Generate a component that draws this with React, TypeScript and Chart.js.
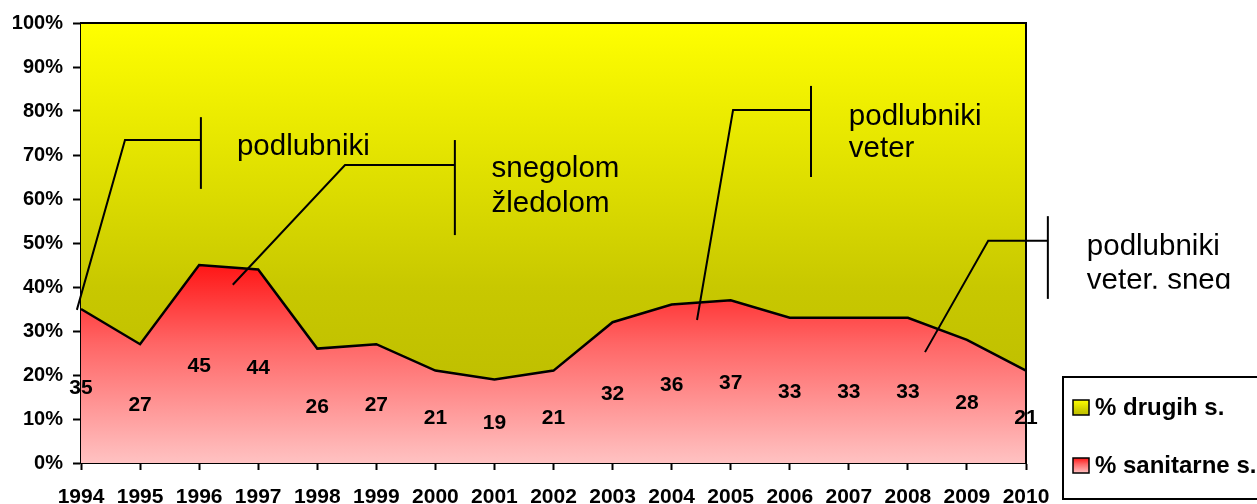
import { useEffect, useRef } from "react";
import { Chart, registerables } from "chart.js";

Chart.register(...registerables);

const years = ["1994", "1995", "1996", "1997", "1998", "1999", "2000", "2001", "2002", "2003", "2004", "2005", "2006", "2007", "2008", "2009", "2010"];
const sanitarne = [35, 27, 45, 44, 26, 27, 21, 19, 21, 32, 36, 37, 33, 33, 33, 28, 21];
const drugih = [65, 73, 55, 56, 74, 73, 79, 81, 79, 68, 64, 63, 67, 67, 67, 72, 79];
const yTickValues = [0, 10, 20, 30, 40, 50, 60, 70, 80, 90, 100];
const seriesNames = ["% drugih s.", "% sanitarne s."];
const calloutLines = [["podlubniki"], ["snegolom", "žledolom"], ["podlubniki", "veter"], ["podlubniki", "veter, sneg"]];

const FONT = "'Liberation Sans', Arial, Helvetica, sans-serif";

// annotation geometry (in category-index / percent units); ty = text baselines
const calloutGeom = [
  { path: [[-0.07, 34.8], [0.745, 73.4], [2.03, 73.4]], bar: [2.03, 78.6, 62.3], tx: 2.64, ty: [70.0], clip: null as number | null },
  { path: [[2.57, 40.5], [4.47, 67.7], [6.33, 67.7]], bar: [6.33, 73.4, 51.8], tx: 6.95, ty: [65.0, 57.05], clip: null },
  { path: [[10.43, 32.5], [11.04, 80.2], [12.36, 80.2]], bar: [12.36, 85.7, 65.0], tx: 13.0, ty: [76.8, 69.5], clip: null },
  { path: [[14.29, 25.2], [15.36, 50.5], [16.37, 50.5]], bar: [16.37, 56.1, 37.3], tx: 17.03, ty: [47.3, 39.5], clip: 39.6 as number | null },
];

function yellowGrad(ctx: CanvasRenderingContext2D, top: number, bottom: number) {
  const g = ctx.createLinearGradient(0, top, 0, bottom);
  g.addColorStop(0, "#FFFF00");
  g.addColorStop(0.6, "#C8C800");
  g.addColorStop(1, "#B8B800");
  return g;
}
function redGrad(ctx: CanvasRenderingContext2D, top: number, bottom: number) {
  const g = ctx.createLinearGradient(0, top, 0, bottom);
  g.addColorStop(0, "#FF1616");
  g.addColorStop(0.4, "#FF6666");
  g.addColorStop(1, "#FFC2C2");
  return g;
}

const overlayPlugin = {
  id: "overlay",
  afterDatasetsDraw(chart: any) {
    const { ctx } = chart;
    const xs = chart.scales.x;
    const ys = chart.scales.y;
    ctx.save();
    ctx.font = `bold 21px ${FONT}`;
    ctx.fillStyle = "#000";
    ctx.textAlign = "center";
    ctx.textBaseline = "alphabetic";
    sanitarne.forEach((v, i) => {
      ctx.fillText(String(v), xs.getPixelForValue(i), ys.getPixelForValue(v / 2) + 7.5);
    });
    ctx.restore();
  },
  afterDraw(chart: any) {
    const { ctx, chartArea } = chart;
    const xs = chart.scales.x;
    const ys = chart.scales.y;
    ctx.save();
    ctx.strokeStyle = "#000";
    ctx.lineWidth = 2;
    ctx.beginPath();
    ctx.moveTo(chartArea.left, chartArea.top);
    ctx.lineTo(chartArea.right, chartArea.top);
    ctx.lineTo(chartArea.right, chartArea.bottom);
    ctx.stroke();

    calloutGeom.forEach((c, k) => {
      ctx.lineWidth = 2;
      ctx.beginPath();
      c.path.forEach(([xi, yv], j) => {
        const px = xs.getPixelForValue(xi);
        const py = ys.getPixelForValue(yv);
        if (j === 0) ctx.moveTo(px, py);
        else ctx.lineTo(px, py);
      });
      ctx.stroke();
      ctx.beginPath();
      ctx.moveTo(xs.getPixelForValue(c.bar[0]), ys.getPixelForValue(c.bar[1]));
      ctx.lineTo(xs.getPixelForValue(c.bar[0]), ys.getPixelForValue(c.bar[2]));
      ctx.stroke();
      ctx.save();
      if (c.clip !== null) {
        ctx.beginPath();
        ctx.rect(0, 0, chart.width, ys.getPixelForValue(c.clip));
        ctx.clip();
      }
      ctx.font = `29.5px ${FONT}`;
      ctx.fillStyle = "#000";
      ctx.textAlign = "left";
      ctx.textBaseline = "alphabetic";
      calloutLines[k].forEach((t, j) => {
        ctx.fillText(t, xs.getPixelForValue(c.tx), ys.getPixelForValue(c.ty[j]));
      });
      ctx.restore();
    });

    // legend
    ctx.lineWidth = 2;
    ctx.strokeStyle = "#000";
    ctx.strokeRect(1063, 377, 200, 122);
    const items = [
      { name: seriesNames[0], y: 408, grad: (t: number, b: number) => yellowGrad(ctx, t, b + 4) },
      { name: seriesNames[1], y: 466, grad: (t: number, b: number) => redGrad(ctx, t, b) },
    ];
    items.forEach((it) => {
      const t = it.y - 8;
      const b = it.y + 7;
      ctx.fillStyle = it.grad(t, b);
      ctx.fillRect(1073, t, 16, 15);
      ctx.lineWidth = 1.5;
      ctx.strokeRect(1073, t, 16, 15);
      ctx.fillStyle = "#000";
      ctx.font = `bold 24px ${FONT}`;
      ctx.textAlign = "left";
      ctx.textBaseline = "middle";
      ctx.fillText(it.name, 1095, it.y);
    });
    ctx.restore();
  },
};

export default function App() {
  const ref = useRef<HTMLCanvasElement | null>(null);
  useEffect(() => {
    if (!ref.current) return;
    const chart = new Chart(ref.current, {
      type: "line",
      data: {
        labels: years,
        datasets: [
          {
            label: seriesNames[1],
            data: sanitarne,
            fill: "origin",
            borderColor: "#000",
            borderWidth: 2.5,
            pointRadius: 0,
            tension: 0,
            backgroundColor: (c: any) => {
              const { chart } = c;
              const ca = chart.chartArea;
              if (!ca) return "#FF6060";
              const top = chart.scales.y.getPixelForValue(45);
              return redGrad(chart.ctx, top, ca.bottom);
            },
          },
          {
            label: seriesNames[0],
            data: drugih,
            fill: "-1",
            borderColor: "#000",
            borderWidth: 2,
            pointRadius: 0,
            tension: 0,
            backgroundColor: (c: any) => {
              const { chart } = c;
              const ca = chart.chartArea;
              if (!ca) return "#E0E000";
              return yellowGrad(chart.ctx, ca.top, ca.bottom);
            },
          },
        ],
      },
      options: {
        responsive: false,
        animation: false,
        events: [],
        layout: { padding: { left: 0, top: 23, right: 231, bottom: 0 } },
        plugins: {
          legend: { display: false },
          tooltip: { enabled: false },
        },
        scales: {
          x: {
            stacked: true,
            offset: false,
            grid: { display: true, drawOnChartArea: false, drawTicks: true, tickLength: 7, tickColor: "#000", tickWidth: 2 },
            border: { display: true, color: "#000", width: 2 },
            ticks: {
              autoSkip: false,
              maxRotation: 0,
              padding: 15,
              color: "#000",
              font: { family: FONT, size: 21, weight: "bold" },
            },
            afterFit: (s: any) => {
              s.height = 41;
            },
          },
          y: {
            stacked: true,
            min: 0,
            max: 100,
            afterBuildTicks: (s: any) => {
              s.ticks = yTickValues.map((v) => ({ value: v }));
            },
            grid: { display: true, drawOnChartArea: false, drawTicks: true, tickLength: 8, tickColor: "#000", tickWidth: 2 },
            border: { display: true, color: "#000", width: 2 },
            ticks: {
              padding: 10,
              color: "#000",
              font: { family: FONT, size: 20, weight: "bold" },
              callback: (v: any) => `${v}%`,
            },
            afterFit: (s: any) => {
              s.width = 81;
            },
          },
        },
      },
      plugins: [overlayPlugin],
    });
    return () => chart.destroy();
  }, []);
  return (
    <div style={{ position: "absolute", left: 0, top: 0, width: 1257, height: 504, background: "#fff" }}>
      <canvas ref={ref} width={1257} height={504} style={{ display: "block", width: 1257, height: 504 }} />
    </div>
  );
}
